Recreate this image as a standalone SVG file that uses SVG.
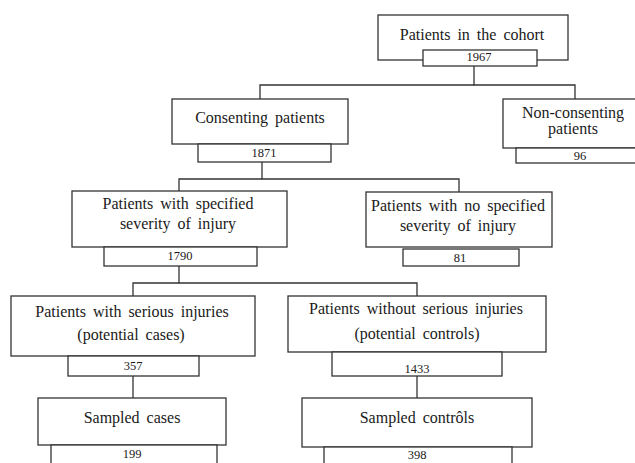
<svg xmlns="http://www.w3.org/2000/svg" width="635" height="463" viewBox="0 0 635 463">
<style>
.b{fill:#fff;stroke:#333;stroke-width:1.3}
.c{fill:none;stroke:#333;stroke-width:1.3}
.t{font-family:"Liberation Serif","Times New Roman",serif;font-size:16px;fill:#1a1a1a;text-anchor:middle;word-spacing:3px}
.n{font-family:"Liberation Serif","Times New Roman",serif;font-size:12.5px;fill:#1a1a1a;text-anchor:middle}
</style>
<rect width="635" height="463" fill="#fff"/>
<g id="connectors">
<path class="c" d="M474 66V85H575V99"/>
<path class="c" d="M474 85H260V99"/>
<path class="c" d="M262 162V179H459V192"/>
<path class="c" d="M262 179H179V191"/>
<path class="c" d="M179 266V283H417V296"/>
<path class="c" d="M179 283H133V296"/>
<path class="c" d="M133 376V398"/>
<path class="c" d="M417 376V398"/>
</g>
<g id="cohort">
<rect class="b" x="378" y="15" width="190" height="45"/>
<text class="t" x="472" y="40">Patients in the cohort</text>
<rect class="b" x="423" y="50" width="114" height="16"/>
<text class="n" x="479" y="61">1967</text>
</g>
<g id="nonconsenting">
<rect class="b" x="503" y="99" width="140" height="49"/>
<text class="t" x="573" y="118">Non-consenting</text>
<text class="t" x="573" y="134">patients</text>
<rect class="b" x="516" y="148" width="127" height="15"/>
<text class="n" x="580" y="160">96</text>
</g>
<g id="consenting">
<rect class="b" x="172" y="99" width="176" height="45"/>
<text class="t" x="260" y="123">Consenting patients</text>
<rect class="b" x="198" y="144" width="133" height="18"/>
<text class="n" x="264" y="157">1871</text>
</g>
<g id="specified">
<rect class="b" x="72" y="191" width="215" height="56"/>
<text class="t" x="178" y="209">Patients with specified</text>
<text class="t" x="178" y="229">severity of injury</text>
<rect class="b" x="104" y="247" width="153" height="19"/>
<text class="n" x="180" y="260">1790</text>
</g>
<g id="nospecified">
<rect class="b" x="366" y="192" width="186" height="55"/>
<text class="t" x="458" y="211">Patients with no specified</text>
<text class="t" x="458" y="231">severity of injury</text>
<rect class="b" x="403" y="249" width="116" height="17"/>
<text class="n" x="460" y="262">81</text>
</g>
<g id="serious">
<rect class="b" x="11" y="296" width="244" height="60"/>
<text class="t" x="132" y="317">Patients with serious injuries</text>
<text class="t" x="131" y="340">(potential cases)</text>
<rect class="b" x="68" y="356" width="131" height="20"/>
<text class="n" x="133" y="370">357</text>
</g>
<g id="notserious">
<rect class="b" x="288" y="296" width="258" height="56"/>
<text class="t" x="416" y="314">Patients without serious injuries</text>
<text class="t" x="417" y="339">(potential controls)</text>
<rect class="b" x="332" y="352" width="170" height="24"/>
<text class="n" x="417" y="373">1433</text>
</g>
<g id="cases">
<rect class="b" x="38" y="398" width="188" height="47"/>
<text class="t" x="132" y="423">Sampled cases</text>
<rect class="b" x="51" y="445" width="166" height="30"/>
<text class="n" x="132" y="458">199</text>
</g>
<g id="controls">
<rect class="b" x="302" y="398" width="230" height="49"/>
<text class="t" x="417" y="423">Sampled contrôls</text>
<rect class="b" x="324" y="447" width="188" height="30"/>
<text class="n" x="417" y="459">398</text>
</g>
</svg>
